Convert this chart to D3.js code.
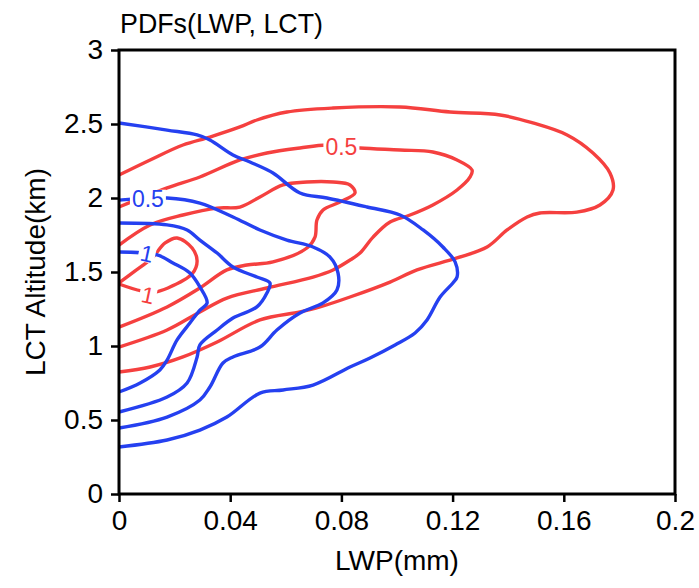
<!DOCTYPE html>
<html>
<head>
<meta charset="utf-8">
<title>PDFs(LWP, LCT)</title>
<script src="https://d3js.org/d3.v7.min.js"></script>
<style>
body { margin: 0; background: #fff; }
text { font-family: "Liberation Sans", Arial, sans-serif; }
</style>
</head>
<body>
<script>
// contour lines, [LWP (mm), LCT altitude (km)]
var redOuter = [[0,2.155],[0.0112,2.257],[0.0230,2.358],[0.0327,2.412],[0.0435,2.480],[0.0496,2.527],[0.0604,2.581],[0.0770,2.608],[0.1011,2.615],[0.1191,2.581],[0.1371,2.561],[0.1489,2.507],[0.1612,2.426],[0.1705,2.304],[0.1766,2.169],[0.1777,2.054],[0.1730,1.953],[0.1647,1.905],[0.1514,1.899],[0.1468,1.872],[0.1396,1.784],[0.1324,1.669],[0.1216,1.595],[0.1072,1.514],[0.0975,1.432],[0.0831,1.331],[0.0723,1.264],[0.0651,1.230],[0.0507,1.176],[0.0353,1.027],[0.0230,0.926],[0.0112,0.858],[0,0.824]];
var red05 = [[0,1.939],[0.0173,2.068],[0.0291,2.142],[0.0435,2.257],[0.0532,2.304],[0.0651,2.338],[0.0748,2.358],[0.0867,2.338],[0.1011,2.324],[0.1129,2.311],[0.1216,2.257],[0.1270,2.189],[0.1263,2.142],[0.1216,2.054],[0.1129,1.953],[0.1047,1.885],[0.0975,1.838],[0.0914,1.736],[0.0867,1.628],[0.0831,1.581],[0.0770,1.514],[0.0698,1.466],[0.0532,1.392],[0.0388,1.324],[0.0291,1.230],[0.0173,1.108],[0,0.993]];
var redInner = [[0,1.682],[0.0112,1.818],[0.0230,1.885],[0.0353,1.932],[0.0435,1.939],[0.0507,2.007],[0.0590,2.088],[0.0676,2.108],[0.0770,2.108],[0.0831,2.088],[0.0849,2.034],[0.0795,1.973],[0.0734,1.919],[0.0712,1.851],[0.0705,1.736],[0.0676,1.662],[0.0554,1.568],[0.0460,1.547],[0.0388,1.514],[0.0291,1.392],[0.0173,1.264],[0,1.128]];
var red1 = [[0,1.426],[0.0058,1.507],[0.0119,1.595],[0.0166,1.696],[0.0209,1.730],[0.0263,1.662],[0.0281,1.574],[0.0263,1.487],[0.0176,1.392],[0.0129,1.365],[0.0080,1.372],[0,1.419]];

var blueOuter = [[0,2.507],[0.0173,2.459],[0.0281,2.426],[0.0327,2.392],[0.0410,2.291],[0.0471,2.243],[0.0554,2.169],[0.0651,2.034],[0.0748,2.000],[0.0892,1.939],[0.1011,1.885],[0.1094,1.784],[0.1165,1.669],[0.1209,1.568],[0.1216,1.466],[0.1201,1.426],[0.1155,1.331],[0.1108,1.176],[0.1065,1.088],[0.0993,1.007],[0.0903,0.919],[0.0831,0.858],[0.0698,0.736],[0.0590,0.703],[0.0507,0.682],[0.0388,0.520],[0.0291,0.432],[0.0173,0.365],[0,0.318]];
var blue05 = [[0,1.986],[0.0173,2.000],[0.0291,1.966],[0.0410,1.872],[0.0507,1.784],[0.0604,1.716],[0.0698,1.669],[0.0759,1.601],[0.0788,1.493],[0.0784,1.378],[0.0734,1.291],[0.0651,1.223],[0.0568,1.108],[0.0507,0.993],[0.0410,0.926],[0.0374,0.885],[0.0327,0.723],[0.0291,0.635],[0.0173,0.520],[0,0.446]];
var blueInner = [[0,1.831],[0.0173,1.818],[0.0245,1.784],[0.0291,1.716],[0.0353,1.628],[0.0410,1.534],[0.0496,1.466],[0.0543,1.426],[0.0532,1.358],[0.0496,1.264],[0.0410,1.189],[0.0353,1.108],[0.0291,1.007],[0.0281,0.926],[0.0245,0.750],[0.0173,0.655],[0,0.554]];
var blue1 = [[0,1.635],[0.0137,1.615],[0.0194,1.561],[0.0255,1.493],[0.0291,1.399],[0.0317,1.291],[0.0291,1.243],[0.0255,1.155],[0.0209,1.041],[0.0173,0.905],[0.0147,0.838],[0.0076,0.750],[0,0.689]];

// contour labels: [lwp, alt, text, angle]
var redLabels = [[0.0800, 2.345, "0.5", 0], [0.0104, 1.345, "1", 12]];
var blueLabels = [[0.0104, 1.995, "0.5", 0], [0.0101, 1.625, "1", 12]];

var xTicks = [0, 0.04, 0.08, 0.12, 0.16, 0.2];
var yTicks = [0, 0.5, 1, 1.5, 2, 2.5, 3];

var W = 699, H = 588;
var margin = {left: 119, right: 24, top: 50, bottom: 94};
var red = "#f5403f", blue = "#2540f0";

var svg = d3.select("body").append("svg")
    .attr("width", W).attr("height", H);

var x = d3.scaleLinear().domain([0, 0.2]).range([margin.left, W - margin.right]);
var y = d3.scaleLinear().domain([0, 3]).range([H - margin.bottom, margin.top]);

var line = d3.line()
    .x(function(d) { return x(d[0]); })
    .y(function(d) { return y(d[1]); })
    .curve(d3.curveCatmullRom.alpha(0.5));

var plot = svg.append("g");

function drawSet(sets, color) {
  sets.forEach(function(s) {
    plot.append("path")
        .attr("d", line(s))
        .attr("fill", "none")
        .attr("stroke", color)
        .attr("stroke-width", 3.4)
        .attr("stroke-linejoin", "round");
  });
}
drawSet([redOuter, red05, redInner, red1], red);
drawSet([blueOuter, blue05, blueInner, blue1], blue);

// labels sit on a white patch that breaks the line, like NCL line labels
function drawLabels(labels, color) {
  labels.forEach(function(l) {
    var g = plot.append("g")
        .attr("transform", "translate(" + x(l[0]) + "," + y(l[1]) + ") rotate(" + l[3] + ")");
    var bg = g.append("rect").attr("fill", "#fff");
    var t = g.append("text")
        .attr("text-anchor", "middle")
        .attr("dy", "0.36em")
        .attr("font-size", 23)
        .attr("fill", color)
        .text(l[2]);
    var b = t.node().getBBox();
    bg.attr("x", b.x - 2).attr("width", b.width + 4)
      .attr("y", -9).attr("height", 18);
  });
}
drawLabels(redLabels, red);
drawLabels(blueLabels, blue);

// frame
svg.append("rect")
    .attr("x", x(0)).attr("y", y(3))
    .attr("width", x(0.2) - x(0)).attr("height", y(0) - y(3))
    .attr("fill", "none").attr("stroke", "#000").attr("stroke-width", 3);

var xAxis = svg.append("g")
    .attr("transform", "translate(0," + y(0) + ")")
    .call(d3.axisBottom(x).tickValues(xTicks).tickSize(8).tickPadding(8)
      .tickFormat(function(d) { return d === 0 ? "0" : String(+d.toFixed(2)); }));
var yAxis = svg.append("g")
    .attr("transform", "translate(" + x(0) + ",0)")
    .call(d3.axisLeft(y).tickValues(yTicks).tickSize(8).tickPadding(8)
      .tickFormat(function(d) { return String(d); }));

[xAxis, yAxis].forEach(function(a) {
  a.select(".domain").remove();
  a.selectAll(".tick line").attr("stroke", "#000").attr("stroke-width", 2.5);
  a.selectAll(".tick text").attr("fill", "#000")
      .attr("font-family", "Liberation Sans, Arial, sans-serif")
      .attr("font-size", 28);
});

svg.append("text")
    .attr("x", 120).attr("y", 33)
    .attr("font-size", 28)
    .attr("textLength", 203)
    .attr("lengthAdjust", "spacingAndGlyphs")
    .text("PDFs(LWP, LCT)");

svg.append("text")
    .attr("x", (x(0) + x(0.2)) / 2).attr("y", 570)
    .attr("text-anchor", "middle")
    .attr("font-size", 28)
    .text("LWP(mm)");

svg.append("text")
    .attr("transform", "translate(45," + (y(0) + y(3)) / 2 + ") rotate(-90)")
    .attr("text-anchor", "middle")
    .attr("font-size", 28)
    .text("LCT Altitude(km)");
</script>
</body>
</html>
